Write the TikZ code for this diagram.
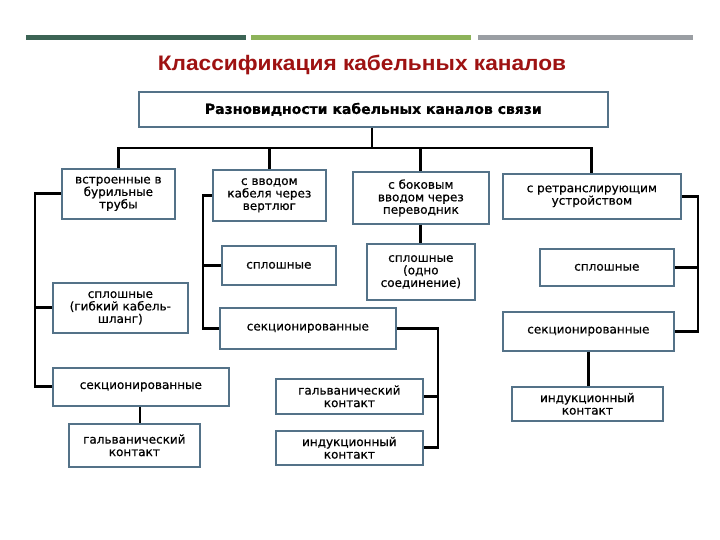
\documentclass[tikz,border=0pt]{standalone}
\usepackage{fontspec}
\usepackage{tikz}
\usetikzlibrary{positioning,calc}
\newfontfamily\boxfont[FakeBold=0.6]{DejaVu Sans}
\newfontfamily\titlefont[FakeStretch=1.08]{Liberation Sans}
\definecolor{boxc}{RGB}{84,114,136}
\definecolor{barA}{RGB}{60,100,85}
\definecolor{barB}{RGB}{141,179,90}
\definecolor{barC}{RGB}{154,158,163}
\definecolor{ttl}{RGB}{158,18,18}
\tikzstyle{kbox}=[draw=boxc,line width=1.7pt,fill=white,align=center,anchor=north west,
                inner sep=1pt,text=black,font=\boxfont\fontsize{12}{12.5}\selectfont]
\tikzstyle{link}=[draw,line width=2.8pt,black]
\tikzstyle{bar}=[line width=5pt]

\begin{document}
\begin{tikzpicture}[x=1pt,y=-1pt]
  \useasboundingbox[fill=white] (0,0) rectangle (720,540);
  % top bars
  \draw[bar,barA] (26,37.5) -- (246,37.5);
  \draw[bar,barB] (251,37.5) -- (471,37.5);
  \draw[bar,barC] (478,37.5) -- (693,37.5);
  \node (title) at (362,64.5) {\titlefont\bfseries\fontsize{21}{23}\selectfont\color{ttl}Классификация кабельных каналов};

  \node (top) [kbox,minimum width=469pt,minimum height=35pt,
               font=\boxfont\bfseries\fontsize{14}{16}\selectfont] at (138,91) {Разновидности кабельных каналов связи};
  % first level
  \node (bur) [kbox,minimum width=113pt,minimum height=50pt] at (61,168) {встроенные в\\бурильные\\трубы};
  \node (vert) [kbox,minimum width=113pt,minimum height=51pt] at (212,169) {с вводом\\кабеля через\\вертлюг};
  \node (bok) [kbox,minimum width=136pt,minimum height=52pt] at (352,171) {с боковым\\вводом через\\переводник};
  \node (ret) [kbox,minimum width=178pt,minimum height=45pt] at (502,173) {с ретранслирующим\\устройством};
  % second level
  \node (shl) [kbox,minimum width=135pt,minimum height=50pt] at (52,282) {сплошные\\(гибкий кабель-\\шланг)};
  \node (secL) [kbox,minimum width=176pt,minimum height=38pt] at (52,367) {секционированные};
  \node (galL) [kbox,minimum width=131pt,minimum height=43pt] at (68,423) {гальванический\\контакт};
  \node (splV) [kbox,minimum width=114pt,minimum height=39pt] at (221,245) {сплошные};
  \node (secV) [kbox,minimum width=176pt,minimum height=41pt] at (219,307) {секционированные};
  \node (galV) [kbox,minimum width=147pt,minimum height=35pt] at (275,378) {гальванический\\контакт};
  \node (indV) [kbox,minimum width=147pt,minimum height=34pt] at (275,430) {индукционный\\контакт};
  \node (splB) [kbox,minimum width=108pt,minimum height=56pt] at (366,243) {сплошные\\(одно\\соединение)};
  \node (splR) [kbox,minimum width=134pt,minimum height=37pt] at (539,248) {сплошные};
  \node (secR) [kbox,minimum width=171pt,minimum height=39pt] at (502,311) {секционированные};
  \node (indR) [kbox,minimum width=151pt,minimum height=34pt] at (511,386) {индукционный\\контакт};

  \coordinate (bus) at (372,148);
  \coordinate (lft) at (35,0);
  \coordinate (lftV) at (203,0);
  \coordinate (midV) at (438,0);
  \coordinate (rgt) at (698,0);

  \draw[link] (top.south -| bus) -- (bus);
  \draw[link] (bur.north) |- (bus) -| (ret.north);
  \draw[link] (vert.north) -- (vert.north |- bus);
  \draw[link] (bok.north) -- (bok.north |- bus);
  % left branch
  \draw[link] (bur.west) -| (lft |- secL.west) -- (secL.west);
  \draw[link] (shl.west) -- (lft |- shl.west);
  \draw[link] (secL.south -| 140,0) -- (galL.north -| 140,0);
  % vertlug branch
  \draw[link] (vert.west) -| (lftV |- secV.west) -- (secV.west);
  \draw[link] (splV.west) -- (lftV |- splV.west);
  \draw[link] (secV.east) -| (midV |- indV.east) -- (indV.east);
  \draw[link] (galV.east) -- (midV |- galV.east);
  % side entry
  \draw[link] (bok.south) -- (splB.north);
  % repeater branch
  \draw[link] (ret.east) -| (rgt |- secR.west) -- (secR.east);
  \draw[link] (splR.east) -- (rgt |- splR.east);
  \draw[link] (secR.south) -- (indR.north -| secR.south);
\end{tikzpicture}
\end{document}
